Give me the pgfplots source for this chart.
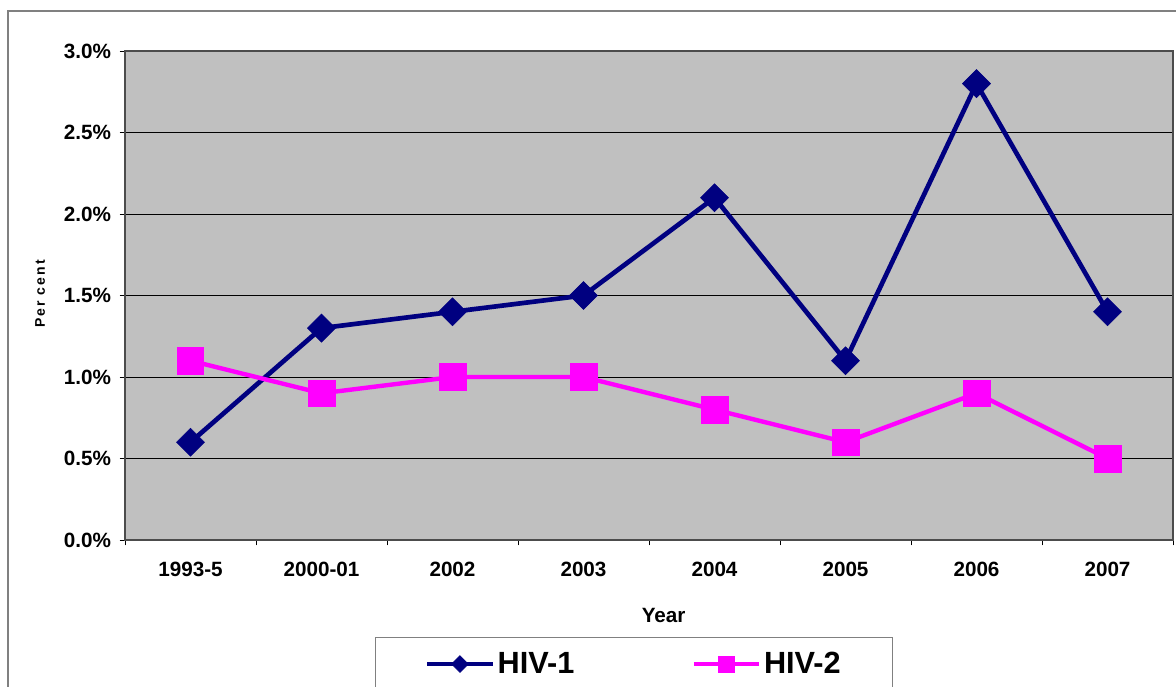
\documentclass[border=0pt]{standalone}
\usepackage{fontspec}
\setmainfont{Liberation Sans}
\newfontfamily\spaced[LetterSpace=15]{Liberation Sans}
\usepackage{pgfplots}
\pgfplotsset{compat=1.18}
\definecolor{plotbg}{HTML}{C0C0C0}
\definecolor{hivone}{HTML}{000080}
\definecolor{hivtwo}{HTML}{FF00FF}

\begin{document}
\begin{tikzpicture}
% page = 1176x686 px at 0.75pt/px, axis box corner at (0,0)
\useasboundingbox (-93.75pt,-109.5pt) rectangle (788.25pt,405pt);
\clip (-93.75pt,-109.5pt) rectangle (788.25pt,405pt);
\draw[gray, line width=1.1pt] (-87.75pt,-130pt) rectangle (800pt,396.75pt);
\begin{axis}[
  at={(0,0)}, anchor=south west,
  scale only axis, width=786pt, height=366.75pt,
  axis background/.style={fill=plotbg},
  axis line style={draw=gray!60!black, line width=0.9pt},
  xmin=-0.5, xmax=7.5, ymin=0, ymax=3,
  xtick pos=bottom, ytick pos=left,
  xtick={-0.5,0.5,...,7.5}, xticklabels={},
  extra x ticks={0,...,7},
  extra x tick labels={1993-5,2000-01,2002,2003,2004,2005,2006,2007},
  extra x tick style={major tick length=0pt, grid=none},
  ytick={0,0.5,...,3},
  yticklabels={0.0\%,0.5\%,1.0\%,1.5\%,2.0\%,2.5\%,3.0\%},
  tick align=outside, major tick length=4pt,
  tick style={black, line width=0.6pt},
  ymajorgrids, major grid style={black, line width=0.6pt},
  ticklabel style={font=\bfseries\fontsize{15.5}{18}\selectfont},
  xticklabel style={yshift=-13pt},
  yticklabel style={xshift=-3pt},
  xlabel={Year},
  xlabel style={at={(axis description cs:0.514,-0.1534)}, anchor=center,
    font=\bfseries\fontsize{15.5}{18}\selectfont},
  ylabel={Per cent},
  ylabel style={at={(axis description cs:-0.0811,0.503)}, anchor=center,
    font=\spaced\bfseries\fontsize{10.5}{12}\selectfont},
  legend columns=2,
  legend style={at={(axis description cs:0.2385,-0.1984)}, anchor=north west,
    draw=gray, line width=1pt, fill=white, inner xsep=37pt, inner ysep=9pt,
    font=\bfseries\fontsize{23}{26}\selectfont,
    /tikz/every even column/.append style={column sep=86pt}},
  legend image code/.code={\draw[mark repeat=2, mark phase=2, #1,
    every mark/.append style={scale=0.6}]
    plot coordinates {(0pt,0pt) (24.5pt,0pt) (49pt,0pt)};},
]
\addplot[hivone, line width=3.5pt, mark=square*,
  mark options={solid, rotate=45, line width=0.5pt}, mark size=7.4pt]
  coordinates {(0,0.6) (1,1.3) (2,1.4) (3,1.5) (4,2.1) (5,1.1) (6,2.8) (7,1.4)};
\addlegendentry{HIV-1}
\addplot[hivtwo, line width=3.3pt, mark=square*,
  mark options={solid, line width=0.5pt}, mark size=10pt]
  coordinates {(0,1.1) (1,0.9) (2,1.0) (3,1.0) (4,0.8) (5,0.6) (6,0.9) (7,0.5)};
\addlegendentry{HIV-2}
\end{axis}
\end{tikzpicture}
\end{document}
